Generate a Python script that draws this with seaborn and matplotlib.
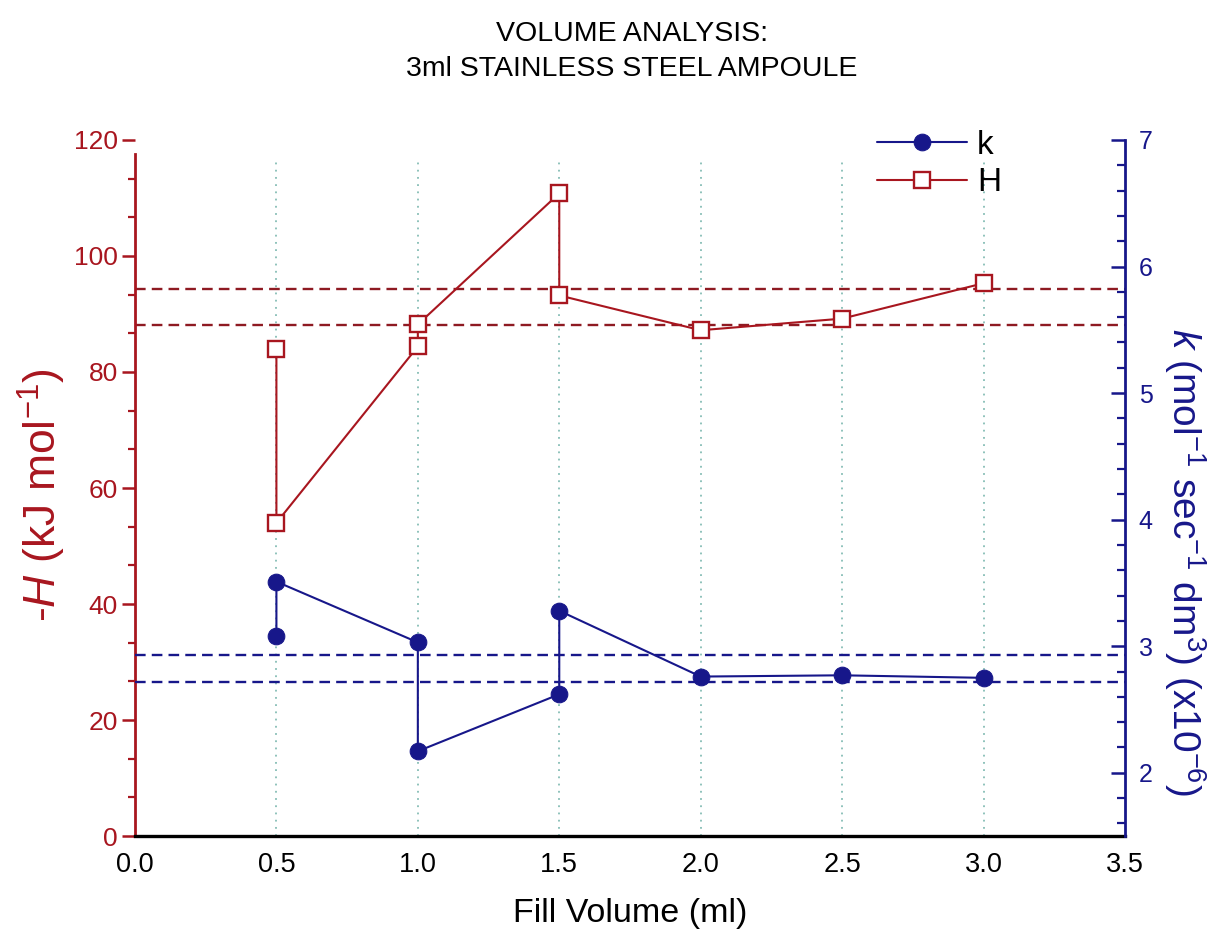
import matplotlib
matplotlib.use("Agg")
import matplotlib.pyplot as plt
from matplotlib.ticker import MultipleLocator
import numpy as np
import pandas as pd
import seaborn as sns

# Measurements in the order they were taken (repeat fills share a volume)
fill_volume = [0.5, 0.5, 1.0, 1.0, 1.5, 1.5, 2.0, 2.5, 3.0]
enthalpy_H = [84.0, 54.0, 84.4, 88.2, 110.8, 93.2, 87.2, 89.2, 95.3]

k_volume = [0.5, 0.5, 1.0, 1.0, 1.5, 1.5, 2.0, 2.5, 3.0]
rate_k = [3.08, 3.51, 3.03, 2.17, 2.62, 3.28, 2.76, 2.77, 2.75]

# Acceptance band limits for each quantity
H_band = [94.3, 88.1]
k_band = [2.93, 2.72]

x_ticks = [0.0, 0.5, 1.0, 1.5, 2.0, 2.5, 3.0, 3.5]
grid_x = [0.5, 1.0, 1.5, 2.0, 2.5, 3.0]

RED = "#A8161F"
RED_DARK = "#8E1A22"
BLUE = "#17178A"
GRID = "#86BDB5"

sns.set_style("white")
plt.rcParams["font.family"] = ["Liberation Sans", "DejaVu Sans"]
plt.rcParams["mathtext.fontset"] = "custom"
plt.rcParams["mathtext.rm"] = "Liberation Sans"
plt.rcParams["mathtext.it"] = "Liberation Sans:italic"
plt.rcParams["text.color"] = "black"
plt.rcParams["axes.labelcolor"] = "black"

df_H = pd.DataFrame({"volume": fill_volume, "H": enthalpy_H})
df_k = pd.DataFrame({"volume": k_volume, "k": rate_k})

fig = plt.figure(figsize=(12.15, 9.42), dpi=100)
ax = fig.add_axes([0.1111, 0.1125, 0.8148, 0.7389])
ax2 = ax.twinx()

# vertical dotted guides
ax.vlines(grid_x, 0, 116.5, colors=GRID, linestyles=(0, (1, 3)), lw=1.3, zorder=0)

# band limits
for v in H_band:
    ax.axhline(v, color=RED_DARK, ls=(0, (4.5, 2.6)), lw=1.7, zorder=1)
for v in k_band:
    ax2.axhline(v, color=BLUE, ls=(0, (4.5, 2.6)), lw=1.7, zorder=1)

sns.lineplot(data=df_H, x="volume", y="H", sort=False, estimator=None, ax=ax,
             color=RED, lw=1.5, marker="s", markersize=11,
             markerfacecolor="white", markeredgecolor=RED, markeredgewidth=1.7,
             label="H", legend=False, zorder=3)
sns.lineplot(data=df_k, x="volume", y="k", sort=False, estimator=None, ax=ax2,
             color=BLUE, lw=1.5, marker="o", markersize=12,
             markerfacecolor=BLUE, markeredgecolor=BLUE,
             label="k", legend=False, zorder=3)

# x axis
ax.set_xlim(0, 3.5)
ax.set_xticks(x_ticks)
ax.set_xticklabels([f"{t:.1f}" for t in x_ticks])
ax.set_xlabel("Fill Volume (ml)", fontsize=24.5, va="center")
ax.xaxis.set_label_coords(0.5, -0.111)
ax.tick_params(axis="x", direction="out", length=9.5, width=1.8, colors="black",
               labelsize=19.5, pad=2)

# left axis
ax.set_ylim(0, 120)
ax.yaxis.set_major_locator(MultipleLocator(20))
ax.yaxis.set_minor_locator(MultipleLocator(20 / 3))
ax.tick_params(axis="y", which="major", direction="out", length=9.5, width=1.8,
               colors=RED, labelsize=19, pad=3)
ax.tick_params(axis="y", which="minor", direction="out", length=5, width=1.6,
               colors=RED, left=True)
ax.set_ylabel(r"-$H$ (kJ mol$^{-1}$)", color=RED, fontsize=32,
              va="center", ha="center", rotation_mode="default")
ax.yaxis.set_label_coords(-0.094, 0.49)

# right axis
ax2.set_ylim(1.5, 7)
ax2.yaxis.set_major_locator(MultipleLocator(1))
ax2.yaxis.set_minor_locator(MultipleLocator(0.2))
ax2.tick_params(axis="y", which="major", direction="in", length=10, width=1.8,
                colors=BLUE, labelsize=18, pad=10)
ax2.tick_params(axis="y", which="minor", direction="in", length=6, width=1.6,
                colors=BLUE, right=True)
ax2.set_ylabel(r"$k$ (mol$^{-1}$ sec$^{-1}$ dm$^{3}$) (x10$^{-6}$)", color=BLUE,
               fontsize=28, rotation=270, va="center", ha="center",
               rotation_mode="default")
ax2.yaxis.set_label_coords(1.061, 0.394)

for a in (ax, ax2):
    a.spines["top"].set_visible(False)
    a.grid(False)
ax.spines["right"].set_visible(False)
ax2.spines["left"].set_visible(False)
ax2.spines["bottom"].set_visible(False)
ax.spines["left"].set_color(RED)
ax.spines["left"].set_linewidth(2.0)
ax.spines["left"].set_bounds(0, 117.5)
ax.spines["bottom"].set_color("black")
ax.spines["bottom"].set_linewidth(2.4)
ax2.spines["right"].set_color(BLUE)
ax2.spines["right"].set_linewidth(2.0)

# legend with k first, then H
h_line = ax.get_lines()[-1]
k_line = ax2.get_lines()[-1]
leg = ax2.legend([k_line, h_line], ["k", "H"], loc="upper left",
                 bbox_to_anchor=(0.719, 1.058), frameon=False, fontsize=24,
                 handlelength=2.7, handletextpad=0.3, labelspacing=0.2)

fig.text(0.52, 0.9455, "VOLUME ANALYSIS:\n3ml STAINLESS STEEL AMPOULE",
         ha="center", va="center", fontsize=20.5, linespacing=1.45)

fig.savefig("out.png", dpi=100)
